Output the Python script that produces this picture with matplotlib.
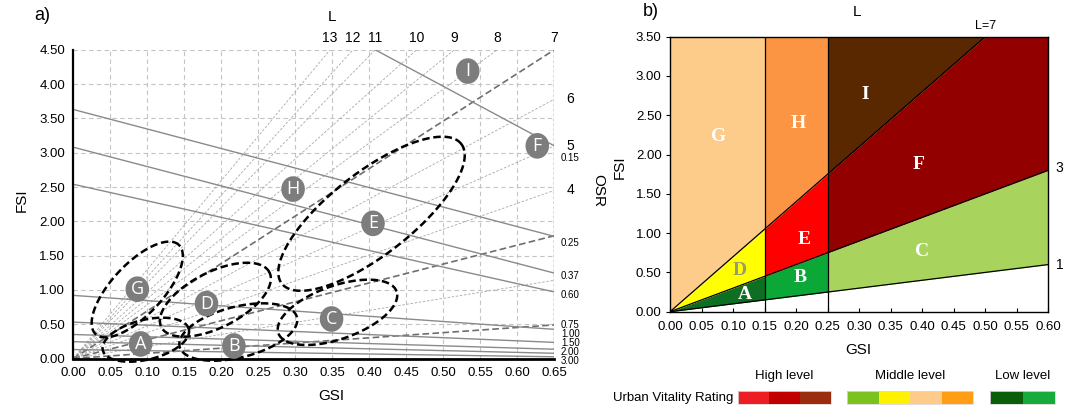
import numpy as np
import matplotlib
matplotlib.use("Agg")
import matplotlib.pyplot as plt
from matplotlib.path import Path

plt.rcParams['font.family'] = ['Liberation Sans', 'DejaVu Sans']

# ---------------- data: panel a (Spacemate) ----------------
gsi_ticks_a = [0.00, 0.05, 0.10, 0.15, 0.20, 0.25, 0.30, 0.35, 0.40, 0.45, 0.50, 0.55, 0.60, 0.65]
fsi_ticks_a = [0.00, 0.50, 1.00, 1.50, 2.00, 2.50, 3.00, 3.50, 4.00, 4.50]

# L lines reaching the top edge (FSI = 4.5)
L_top_labels = ['13', '12', '11', '10', '9', '8', '7']
L_top_gsi = [0.347, 0.378, 0.408, 0.464, 0.515, 0.573, 0.650]
L_top_dark = [False, False, False, False, False, False, True]
# L lines reaching the right edge (GSI = 0.65)
L_right_labels = ['6', '5', '4', '', '', '']
L_right_fsi = [3.78, 3.10, 2.45, 1.79, 1.14, 0.49]
L_right_dark = [False, False, False, True, False, True]

# OSR lines (solid grey)
osr_start_gsi = [0.408, 0.0, 0.0, 0.0, 0.0, 0.0, 0.0, 0.0, 0.0]
osr_start_fsi = [4.50, 3.63, 3.08, 2.54, 0.92, 0.53, 0.35, 0.245, 0.13]
osr_end_fsi = [3.10, 1.78, 1.245, 0.97, 0.425, 0.235, 0.135, 0.076, 0.025]
osr_labels = ['0.15', '0.25', '0.37', '0.60', '0.75', '1.00', '1.50', '2.00', '3.00']
osr_label_fsi = [2.93, 1.69, 1.20, 0.925, 0.49, 0.357, 0.23, 0.10, -0.03]

# clusters
cluster_names = ['G', 'D', 'A', 'B', 'C', 'H', 'E', 'I', 'F']
cluster_gsi = [0.0865, 0.180, 0.091, 0.217, 0.349, 0.297, 0.405, 0.533, 0.627]
cluster_fsi = [1.01, 0.80, 0.212, 0.182, 0.576, 2.47, 1.97, 4.19, 3.10]

# dashed ellipses: centre (GSI, FSI), semi axes (px), angle (deg)
ell_gsi = [0.0864, 0.192, 0.098, 0.223, 0.357, 0.403]
ell_fsi = [1.006, 0.857, 0.274, 0.386, 0.673, 2.11]
ell_a = [61.0, 60.6, 44.3, 60.5, 62.7, 113.7]
ell_b = [25.5, 27.8, 19.9, 25.4, 26.6, 41.2]
ell_ang = [47.0, 26.9, 13.8, 14.1, 19.5, 37.9]

# ---------------- data: panel b (zones) ----------------
gsi_ticks_b = [0.00, 0.05, 0.10, 0.15, 0.20, 0.25, 0.30, 0.35, 0.40, 0.45, 0.50, 0.55, 0.60]
fsi_ticks_b = [0.00, 0.50, 1.00, 1.50, 2.00, 2.50, 3.00, 3.50]
gsi_breaks = [0.0, 0.15, 0.25, 0.60]
L_bounds = [1, 3, 7]
fsi_max_b = 3.5
zone_letters = [['A', 'B', 'C'], ['D', 'E', 'F'], ['G', 'H', 'I']]
zone_colors = [['#0E6E22', '#0BA838', '#A8D45E'],
               ['#FFFF00', '#FF0000', '#930000'],
               ['#FDCB8A', '#FB9443', '#5A2800']]
zone_label_gsi = {'G': 0.077, 'H': 0.203, 'I': 0.309, 'F': 0.394, 'E': 0.212,
                  'C': 0.399, 'D': 0.111, 'B': 0.206, 'A': 0.119}
zone_label_fsi = {'G': 2.23, 'H': 2.40, 'I': 2.77, 'F': 1.87, 'E': 0.92,
                  'C': 0.76, 'D': 0.53, 'B': 0.44, 'A': 0.22}

legend_groups = ['High level', 'Middle level', 'Low level']
legend_colors = [['#EE1D23', '#C00000', '#9B2D0E'],
                 ['#7CC11E', '#FFF200', '#FECB8A', '#FF9D14'],
                 ['#0A5E0A', '#17AB3E']]

# ---------------- figure ----------------
W, H = 1065, 411
fig = plt.figure(figsize=(W / 100, H / 100), dpi=100)


def fx(px):
    return px / W


def fy(py):
    return 1 - py / H


# ===== panel a =====
ax = fig.add_axes([fx(73.3), fy(358.5), 481 / W, 308.7 / H])
ax.set_xlim(0, 0.65)
ax.set_ylim(0, 4.5)
ax.set_xticks(gsi_ticks_a)
ax.set_yticks(fsi_ticks_a)
ax.set_xticklabels([f'{v:.2f}' for v in gsi_ticks_a], fontsize=9.5)
ax.set_yticklabels([f'{v:.2f}' for v in fsi_ticks_a], fontsize=9.5)
ax.tick_params(length=0, pad=6)
ax.grid(True, color='#c4c4c4', linestyle=(0, (4, 3)), linewidth=0.8)
ax.set_axisbelow(True)
for s in ['top', 'right']:
    ax.spines[s].set_visible(False)
ax.spines['left'].set_linewidth(1.6)
ax.spines['bottom'].set_linewidth(2.0)
ax.axvline(0.65, color='#555555', linestyle=(0, (2, 1.5)), linewidth=1.0, zorder=2)

# L lines
for g, dark in zip(L_top_gsi, L_top_dark):
    ax.plot([0, g], [0, 4.5], color='#6e6e6e' if dark else '#a8a8a8',
            linestyle=(0, (4, 2)) if dark else (0, (3, 2)),
            linewidth=1.2 if dark else 0.6, zorder=2)
for f, dark in zip(L_right_fsi, L_right_dark):
    ax.plot([0, 0.65], [0, f], color='#6e6e6e' if dark else '#a8a8a8',
            linestyle=(0, (4, 2)) if dark else (0, (3, 2)),
            linewidth=1.2 if dark else 0.6, zorder=2)

# OSR lines
for g0, f0, f1 in zip(osr_start_gsi, osr_start_fsi, osr_end_fsi):
    ax.plot([g0, 0.65], [f0, f1], color='#8a8a8a', linewidth=1.0, zorder=2)

# labels top
for lab, g in zip(L_top_labels, L_top_gsi):
    ax.text(g, 4.57, lab, ha='center', va='bottom', fontsize=10, clip_on=False)
ax.text(0.35, 4.88, 'L', ha='center', va='bottom', fontsize=11, clip_on=False)
# labels right
for lab, f in zip(L_right_labels, L_right_fsi):
    if lab:
        ax.text(0.666, f, lab, ha='left', va='center', fontsize=10, clip_on=False)
for lab, f in zip(osr_labels, osr_label_fsi):
    ax.text(0.659, f, lab, ha='left', va='center', fontsize=7, clip_on=False)
ax.text(0.710, 2.45, 'OSR', rotation=-90, ha='center', va='center', fontsize=11, clip_on=False)

# ellipses (shape defined in pixels, converted through the axes transform)
t = np.linspace(0, 2 * np.pi, 300)
for cx, cy, a, b, ang in zip(ell_gsi, ell_fsi, ell_a, ell_b, ell_ang):
    th = np.radians(ang)
    dx = a * np.cos(t) * np.cos(th) - b * np.sin(t) * np.sin(th)
    dy = a * np.cos(t) * np.sin(th) + b * np.sin(t) * np.cos(th)
    c = ax.transData.transform((cx, cy))
    pts = ax.transData.inverted().transform(np.column_stack([c[0] + dx, c[1] + dy]))
    ax.plot(pts[:, 0], pts[:, 1], color='black', linewidth=1.8,
            linestyle=(0, (3.0, 1.5)), zorder=4, clip_on=False)

# cluster markers
tt = np.linspace(0, 2 * np.pi, 60)
emark = Path(np.column_stack([0.92 * np.cos(tt), np.sin(tt)]), closed=True)
ax.scatter(cluster_gsi, cluster_fsi, s=340, marker=emark, color='#7d7d7d',
           edgecolor='none', zorder=5, clip_on=False)
for n, g, f in zip(cluster_names, cluster_gsi, cluster_fsi):
    ax.text(g, f, n, ha='center', va='center', color='white', fontsize=13,
            zorder=6, family=['Open Sans', 'DejaVu Sans'])

fig.text(fx(42), fy(15), 'a)', ha='center', va='center', fontsize=13)
fig.text(fx(331), fy(396), 'GSI', ha='center', va='center', fontsize=11)
fig.text(fx(22), fy(200), 'FSI', ha='center', va='center', fontsize=11, rotation=90)

# ===== panel b =====
bx = fig.add_axes([fx(670), fy(311.7), 378.3 / W, 275 / H])
bx.set_xlim(0, 0.6)
bx.set_ylim(0, 3.5)
for j in range(3):
    x = np.linspace(gsi_breaks[j], gsi_breaks[j + 1], 300)
    for i in range(3):
        lower = np.minimum(L_bounds[i] * x, fsi_max_b)
        upper = np.minimum(L_bounds[i + 1] * x, fsi_max_b) if i < 2 else np.full_like(x, fsi_max_b)
        bx.fill_between(x, lower, upper, color=zone_colors[i][j], linewidth=0, zorder=1)
for s in L_bounds:
    xe = min(0.6, fsi_max_b / s)
    bx.plot([0, xe], [0, s * xe], color='black', linewidth=0.9, zorder=3)
for g in gsi_breaks[1:3]:
    bx.plot([g, g], [0, fsi_max_b], color='black', linewidth=0.9, zorder=3)
for i in range(3):
    for j in range(3):
        n = zone_letters[i][j]
        bx.text(zone_label_gsi[n], zone_label_fsi[n], n, ha='center', va='center',
                fontsize=14, fontweight='bold', family=['Liberation Serif', 'DejaVu Serif'],
                color='#9a9a70' if n == 'D' else 'white', zorder=4)
for s in bx.spines.values():
    s.set_linewidth(1.0)
bx.set_xticks(gsi_ticks_b)
bx.set_yticks(fsi_ticks_b)
bx.set_xticklabels([f'{v:.2f}' for v in gsi_ticks_b], fontsize=9.5)
bx.set_yticklabels([f'{v:.2f}' for v in fsi_ticks_b], fontsize=9.5)
bx.tick_params(axis='x', direction='in', length=3, pad=7)
bx.tick_params(axis='y', direction='out', length=3, pad=3)
bx.text(0.5, 3.56, 'L=7', ha='center', va='bottom', fontsize=9, clip_on=False)
bx.text(0.612, 1.83, '3', ha='left', va='center', fontsize=10, clip_on=False)
bx.text(0.612, 0.60, '1', ha='left', va='center', fontsize=10, clip_on=False)

fig.text(fx(651), fy(12), 'b)', ha='center', va='center', fontsize=13)
fig.text(fx(857), fy(12), 'L', ha='center', va='center', fontsize=11)
fig.text(fx(858), fy(350), 'GSI', ha='center', va='center', fontsize=11)
fig.text(fx(620), fy(167), 'FSI', ha='center', va='center', fontsize=11, rotation=90)

# ===== legend =====
lg = fig.add_axes([fx(600), fy(411), 465 / W, 60 / H])
lg.set_xlim(600, 1065)
lg.set_ylim(411, 351)
lg.axis('off')
group_x0 = [738.3, 847.3, 990.0]
group_x1 = [831.0, 973.3, 1055.0]
for name, cols, x0, x1 in zip(legend_groups, legend_colors, group_x0, group_x1):
    w = (x1 - x0) / len(cols)
    for k, c in enumerate(cols):
        lg.add_patch(plt.Rectangle((x0 + k * w, 391), w, 13, facecolor=c,
                                   edgecolor='none'))
    lg.add_patch(plt.Rectangle((x0, 391), x1 - x0, 13, facecolor='none',
                               edgecolor='#d9d9d9', linewidth=0.6))
    lg.text((x0 + x1) / 2, 376, name, ha='center', va='center', fontsize=9.5)
lg.text(733, 397.5, 'Urban Vitality Rating', ha='right', va='center', fontsize=9.5)

fig.savefig('out.png', dpi=100)
